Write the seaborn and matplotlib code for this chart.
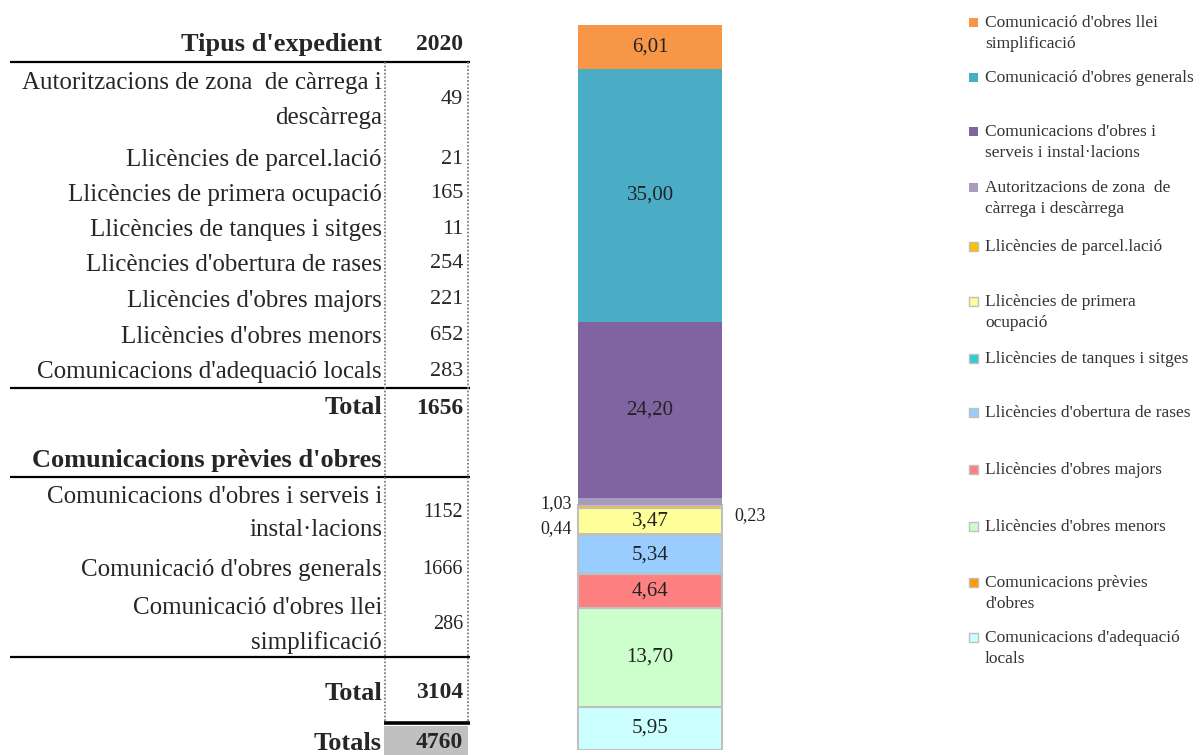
import numpy as np
import pandas as pd
import matplotlib
matplotlib.use("Agg")
import matplotlib.pyplot as plt
from matplotlib.patches import Rectangle
import seaborn as sns

# --- data -----------------------------------------------------------------
llicencies = [
    "Autoritzacions de zona de càrrega i descàrrega",
    "Llicències de parcel.lació",
    "Llicències de primera ocupació",
    "Llicències de tanques i sitges",
    "Llicències d'obertura de rases",
    "Llicències d'obres majors",
    "Llicències d'obres menors",
    "Comunicacions d'adequació locals",
]
llicencies_n = [49, 21, 165, 11, 254, 221, 652, 283]

comunicacions = [
    "Comunicacions d'obres i serveis i instal·lacions",
    "Comunicació d'obres generals",
    "Comunicació d'obres llei simplificació",
]
comunicacions_n = [1152, 1666, 286]

# table labels as they are wrapped in the sheet
llicencies_table = [
    ["Autoritzacions de zona  de càrrega i", "descàrrega"],
    ["Llicències de parcel.lació"],
    ["Llicències de primera ocupació"],
    ["Llicències de tanques i sitges"],
    ["Llicències d'obertura de rases"],
    ["Llicències d'obres majors"],
    ["Llicències d'obres menors"],
    ["Comunicacions d'adequació locals"],
]
comunicacions_table = [
    ["Comunicacions d'obres i serveis i", "instal·lacions"],
    ["Comunicació d'obres generals"],
    ["Comunicació d'obres llei", "simplificació"],
]

# legend / stacking order (top to bottom)
legend_order = [
    "Comunicació d'obres llei simplificació",
    "Comunicació d'obres generals",
    "Comunicacions d'obres i serveis i instal·lacions",
    "Autoritzacions de zona de càrrega i descàrrega",
    "Llicències de parcel.lació",
    "Llicències de primera ocupació",
    "Llicències de tanques i sitges",
    "Llicències d'obertura de rases",
    "Llicències d'obres majors",
    "Llicències d'obres menors",
    "Comunicacions prèvies d'obres",
    "Comunicacions d'adequació locals",
]
legend_text = [
    ["Comunicació d'obres llei", "simplificació"],
    ["Comunicació d'obres generals"],
    ["Comunicacions d'obres i", "serveis i instal·lacions"],
    ["Autoritzacions de zona  de", "càrrega i descàrrega"],
    ["Llicències de parcel.lació"],
    ["Llicències de primera", "ocupació"],
    ["Llicències de tanques i sitges"],
    ["Llicències d'obertura de rases"],
    ["Llicències d'obres majors"],
    ["Llicències d'obres menors"],
    ["Comunicacions prèvies", "d'obres"],
    ["Comunicacions d'adequació", "locals"],
]
colors = {
    "Comunicació d'obres llei simplificació": "#f79646",
    "Comunicació d'obres generals": "#4bacc6",
    "Comunicacions d'obres i serveis i instal·lacions": "#8064a2",
    "Autoritzacions de zona de càrrega i descàrrega": "#a99bbd",
    "Llicències de parcel.lació": "#ffc000",
    "Llicències de primera ocupació": "#ffff99",
    "Llicències de tanques i sitges": "#33cccc",
    "Llicències d'obertura de rases": "#99ccff",
    "Llicències d'obres majors": "#ff8080",
    "Llicències d'obres menors": "#ccffcc",
    "Comunicacions prèvies d'obres": "#ff9900",
    "Comunicacions d'adequació locals": "#ccffff",
}
# series drawn with a grey border
bordered = legend_order[4:]

total_llic = sum(llicencies_n)
total_com = sum(comunicacions_n)
total_all = total_llic + total_com

df = pd.DataFrame({
    "tipus": llicencies + comunicacions,
    "n": llicencies_n + comunicacions_n,
})
df["pct"] = df["n"] / total_all * 100
df["any"] = 0
stack_order = [t for t in legend_order if t in set(df["tipus"])]

# --- figure ---------------------------------------------------------------
sns.set_theme(style="white")
plt.rcParams["font.family"] = ["Liberation Serif", "DejaVu Serif"]

W, H = 1202, 755
fig = plt.figure(figsize=(W / 100, H / 100), dpi=100)

# overlay axes in pixel coordinates for table and legend
ov = fig.add_axes([0, 0, 1, 1])
ov.set_xlim(0, W)
ov.set_ylim(H, 0)
ov.axis("off")

# stacked bar
ax = fig.add_axes([520 / W, 5 / H, 260 / W, 725 / H])
sns.histplot(data=df, x="any", weights="pct", hue="tipus", hue_order=stack_order,
             multiple="stack", discrete=True, shrink=1, palette=colors, alpha=1,
             linewidth=0, legend=False, ax=ax)
pad = 58 / 144
ax.set_xlim(-0.5 - pad, 0.5 + pad)
ax.set_ylim(0, 100)
ax.axis("off")

pct_by_name = dict(zip(df["tipus"], df["pct"]))
# labels placed beside the bar: (side, vertical offset in pixels)
outside = {
    "Autoritzacions de zona de càrrega i descàrrega": ("left", -2),
    "Llicències de parcel.lació": ("left", -22),
    "Llicències de tanques i sitges": ("right", 19),
}
for p in ax.patches:
    h = p.get_height()
    if h <= 0:
        continue
    name = min(pct_by_name, key=lambda k: abs(pct_by_name[k] - h))
    if name in bordered:
        p.set_edgecolor("#c0c0c0")
        p.set_linewidth(1.5)
    yc = p.get_y() + h / 2
    lab = f"{h:.2f}".replace(".", ",")
    if name in outside:
        side, dy = outside[name]
        if side == "left":
            ax.annotate(lab, (-0.5, yc), xytext=(-6, dy), textcoords="offset pixels",
                        ha="right", va="center", fontsize=13, color="#222222")
        else:
            ax.annotate(lab, (0.5, yc), xytext=(12, dy), textcoords="offset pixels",
                        ha="left", va="center", fontsize=13, color="#222222")
    else:
        ax.text(0, yc, lab, ha="center", va="center", fontsize=15, color="#222222")

# --- table ----------------------------------------------------------------
lab_x, val_x = 382, 463
fs_lab, fs_val, fs_val2, fs_bold = 18, 16, 14.5, 19

ov.text(lab_x, 45, "Tipus d'expedient", ha="right", va="center", fontsize=fs_bold, fontweight="bold")
ov.text(val_x, 45, "2020", ha="right", va="center", fontsize=17, fontweight="bold")

llic_y = [[83, 118], [160], [195], [230], [265], [301], [337], [372]]
for lines, ys, n in zip(llicencies_table, llic_y, llicencies_n):
    for line, y in zip(lines, ys):
        ov.text(lab_x, y, line, ha="right", va="center", fontsize=fs_lab)
    ov.text(val_x, np.mean(ys) - 1, str(n), ha="right", va="center", fontsize=fs_val)

ov.text(lab_x, 408, "Total", ha="right", va="center", fontsize=fs_bold, fontweight="bold")
ov.text(val_x, 408, str(total_llic), ha="right", va="center", fontsize=17, fontweight="bold")
ov.text(lab_x, 460, "Comunicacions prèvies d'obres", ha="right", va="center",
        fontsize=fs_bold, fontweight="bold")

com_y = [[497, 530], [570], [608, 643]]
for lines, ys, n in zip(comunicacions_table, com_y, comunicacions_n):
    for line, y in zip(lines, ys):
        ov.text(lab_x, y, line, ha="right", va="center", fontsize=fs_lab)
    ov.text(val_x, np.mean(ys) - 1, str(n), ha="right", va="center", fontsize=fs_val2)

ov.text(lab_x, 693, "Total", ha="right", va="center", fontsize=fs_bold, fontweight="bold")
ov.text(val_x, 693, str(total_com), ha="right", va="center", fontsize=17, fontweight="bold")

ov.add_patch(Rectangle((384, 726), 84, 30, facecolor="#c0c0c0", edgecolor="none"))
ov.text(lab_x, 743, "Totals", ha="right", va="center", fontsize=fs_bold, fontweight="bold")
ov.text(val_x, 743, str(total_all), ha="right", va="center", fontsize=17, fontweight="bold")

for y in [62, 388, 477, 657]:
    ov.plot([10, 470], [y, y], color="black", lw=1.6, solid_capstyle="butt")
ov.plot([384, 470], [723, 723], color="black", lw=2.6, solid_capstyle="butt")
for x in [385, 468]:
    ov.plot([x, x], [62, 723], color="#808080", lw=1.3, linestyle=(0, (1, 1)))

# --- legend ---------------------------------------------------------------
leg_y = [23, 78, 132, 188, 247, 302, 359, 413, 470, 527, 583, 638]
for name, lines, y in zip(legend_order, legend_text, leg_y):
    ec = "#c0c0c0" if name in bordered else "none"
    ov.add_patch(Rectangle((969, y - 5), 9, 9, facecolor=colors[name], edgecolor=ec, lw=1))
    for i, line in enumerate(lines):
        ov.text(985, y + i * 21, line, ha="left", va="center", fontsize=12.5, color="#333333")

fig.savefig("out.png", dpi=100)
